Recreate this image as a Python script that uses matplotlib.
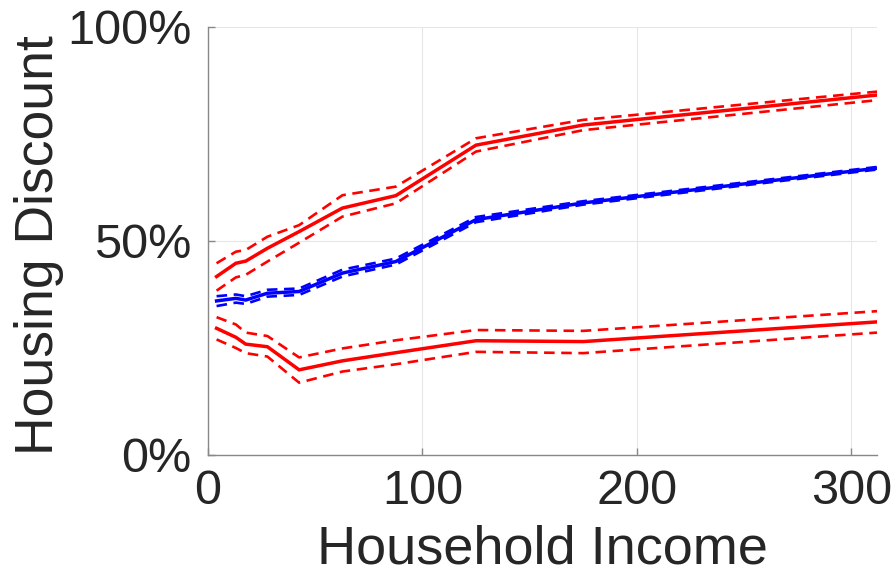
# Housing discount by household income, with confidence bands
import matplotlib.pyplot as plt
from matplotlib.ticker import FuncFormatter

plt.rcParams['font.family'] = ['Liberation Sans', 'DejaVu Sans']

# income bin midpoints (thousands)
income = [4, 13, 17.6, 27.7, 42.5, 62.7, 87.6, 125, 175, 312]

# upper red series
hi_mid = [41.7, 44.8, 45.3, 48.3, 52.2, 57.7, 60.6, 72.4, 77.1, 84.1]
hi_up = [44.8, 47.5, 47.9, 51.0, 53.7, 60.7, 62.7, 74.0, 78.3, 84.9]
hi_lo = [38.4, 41.5, 42.1, 45.2, 49.6, 55.7, 58.8, 70.9, 75.9, 82.9]

# blue series
bl_mid = [36.0, 36.6, 36.2, 37.8, 38.2, 42.5, 45.2, 55.0, 58.9, 67.0]
bl_up = [37.1, 37.5, 37.1, 38.6, 38.9, 43.3, 45.9, 55.6, 59.3, 67.3]
bl_lo = [34.8, 35.6, 35.3, 37.0, 37.4, 41.7, 44.5, 54.4, 58.5, 66.7]

# lower red series
lo_mid = [29.6, 27.5, 25.9, 25.3, 19.9, 22.0, 23.9, 26.7, 26.5, 31.1]
lo_up = [32.2, 30.5, 28.6, 27.8, 22.8, 24.9, 26.8, 29.2, 29.0, 33.6]
lo_lo = [27.0, 25.0, 23.8, 23.0, 16.9, 19.5, 21.2, 24.1, 23.8, 28.6]

fig = plt.figure(figsize=(8.94, 5.83), dpi=100)
ax = fig.add_axes([208/894, 1-455/583, (877-208)/894, (455-27)/583])

dash = (0, (4, 2.5))
for mid, up, lo, c in [(hi_mid, hi_up, hi_lo, '#ff0000'),
                       (bl_mid, bl_up, bl_lo, '#0000ff'),
                       (lo_mid, lo_up, lo_lo, '#ff0000')]:
    ax.plot(income, mid, color=c, lw=2.5, solid_joinstyle='miter')
    ax.plot(income, up, color=c, lw=1.9, linestyle=dash)
    ax.plot(income, lo, color=c, lw=1.9, linestyle=dash)

ax.set_xlim(0, 312)
ax.set_ylim(0, 100)
ax.set_xticks([0, 100, 200, 300])
ax.set_yticks([0, 50, 100])
ax.yaxis.set_major_formatter(FuncFormatter(lambda v, p: f"{v:.0f}%"))
ax.grid(True, color='#e6e6e6', lw=0.8)
ax.set_axisbelow(True)

for s in ['top', 'right']:
    ax.spines[s].set_visible(False)
for s in ['left', 'bottom']:
    ax.spines[s].set_color('#888888')
    ax.spines[s].set_linewidth(1.0)

ax.tick_params(direction='in', length=5, width=1, color='#888888',
               labelsize=35, labelcolor='#262626')
ax.tick_params(axis='x', pad=10)
ax.tick_params(axis='y', pad=12)

ax.set_xlabel("Household Income", fontsize=39, color='#262626', labelpad=8)
ax.set_ylabel("Housing Discount", fontsize=38.5, color='#262626')
ax.yaxis.set_label_coords(-0.215, 0.49)

plt.savefig("out.png", dpi=100)
